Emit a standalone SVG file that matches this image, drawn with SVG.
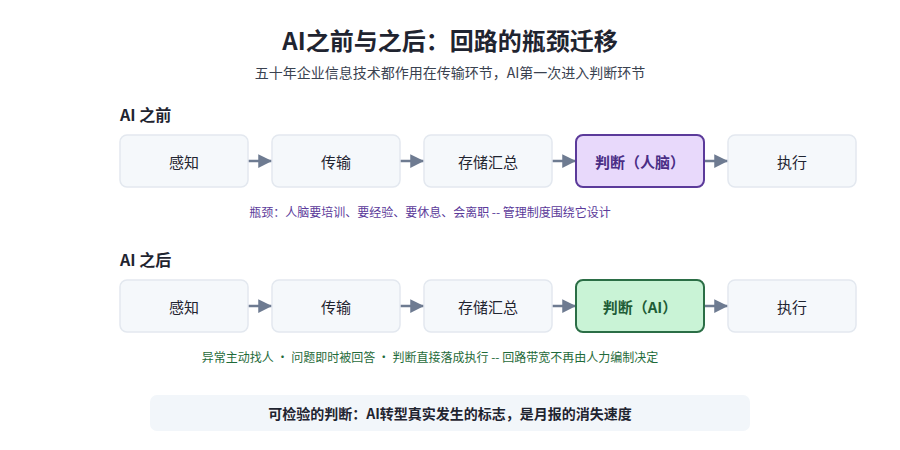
<svg xmlns="http://www.w3.org/2000/svg" width="900" height="450" viewBox="0 0 900 450">
<style>
text{font-family:"Noto Sans CJK SC","Noto Sans",sans-serif;text-anchor:middle;dominant-baseline:central}
.n{fill:#f5f8fb;stroke:#e3e8ef;stroke-width:1.5}
.t{font-size:15px;fill:#1f2430}
.c{stroke:#6e7b91;stroke-width:2.5;fill:none}
.sec{font-size:16px;font-weight:bold;fill:#1f2430;text-anchor:start}
</style>
<defs><marker id="a" viewBox="0 0 10 10" refX="10" refY="5" markerWidth="5.5" markerHeight="6" markerUnits="strokeWidth" orient="auto"><path d="M0,0L10,5L0,10z" fill="#6e7b91"/></marker></defs>
<rect width="900" height="450" fill="#fff"/>
<text x="450" y="39" style="font-size:24px;font-weight:bold;fill:#1f2430">AI之前与之后：回路的瓶颈迁移</text>
<text x="450" y="72" style="font-size:14px;fill:#3a4250">五十年企业信息技术都作用在传输环节，AI第一次进入判断环节</text>
<text x="120" y="114" class="sec">AI 之前</text>
<text x="120" y="259" class="sec">AI 之后</text>
<g id="connectors">
<path class="c" d="M248,161H272" marker-end="url(#a)"/>
<path class="c" d="M400,161H424" marker-end="url(#a)"/>
<path class="c" d="M552,161H576" marker-end="url(#a)"/>
<path class="c" d="M704,161H728" marker-end="url(#a)"/>
<path class="c" d="M248,306H272" marker-end="url(#a)"/>
<path class="c" d="M400,306H424" marker-end="url(#a)"/>
<path class="c" d="M552,306H576" marker-end="url(#a)"/>
<path class="c" d="M704,306H728" marker-end="url(#a)"/>
</g>
<g id="b1"><rect class="n" x="120" y="135" width="128" height="52" rx="7"/><text class="t" x="184" y="161">感知</text></g>
<g id="b2"><rect class="n" x="272" y="135" width="128" height="52" rx="7"/><text class="t" x="336" y="161">传输</text></g>
<g id="b3"><rect class="n" x="424" y="135" width="128" height="52" rx="7"/><text class="t" x="488" y="161">存储汇总</text></g>
<g id="b4"><rect x="576" y="135" width="128" height="52" rx="7" fill="#e8d9fb" stroke="#5b3a9a" stroke-width="2"/><text class="t" x="640" y="161" style="fill:#4a2d85;font-weight:bold">判断（人脑）</text></g>
<g id="b5"><rect class="n" x="728" y="135" width="128" height="52" rx="7"/><text class="t" x="792" y="161">执行</text></g>
<text x="430" y="211" style="font-size:12px;fill:#5b3a9a">瓶颈：人脑要培训、要经验、要休息、会离职 -- 管理制度围绕它设计</text>
<g id="a1"><rect class="n" x="120" y="280" width="128" height="52" rx="7"/><text class="t" x="184" y="306">感知</text></g>
<g id="a2"><rect class="n" x="272" y="280" width="128" height="52" rx="7"/><text class="t" x="336" y="306">传输</text></g>
<g id="a3"><rect class="n" x="424" y="280" width="128" height="52" rx="7"/><text class="t" x="488" y="306">存储汇总</text></g>
<g id="a4"><rect x="576" y="280" width="128" height="52" rx="7" fill="#c9f3d6" stroke="#2b6e46" stroke-width="2"/><text class="t" x="640" y="306" style="fill:#1e5c37;font-weight:bold">判断（AI）</text></g>
<g id="a5"><rect class="n" x="728" y="280" width="128" height="52" rx="7"/><text class="t" x="792" y="306">执行</text></g>
<text x="430" y="356" style="font-size:12px;fill:#1f6b3a">异常主动找人 · 问题即时被回答 · 判断直接落成执行 -- 回路带宽不再由人力编制决定</text>
<rect x="150" y="395" width="600" height="36" rx="7" fill="#f2f6fa"/>
<text x="450" y="413" style="font-size:14px;font-weight:bold;fill:#1f2430">可检验的判断：AI转型真实发生的标志，是月报的消失速度</text>
</svg>
